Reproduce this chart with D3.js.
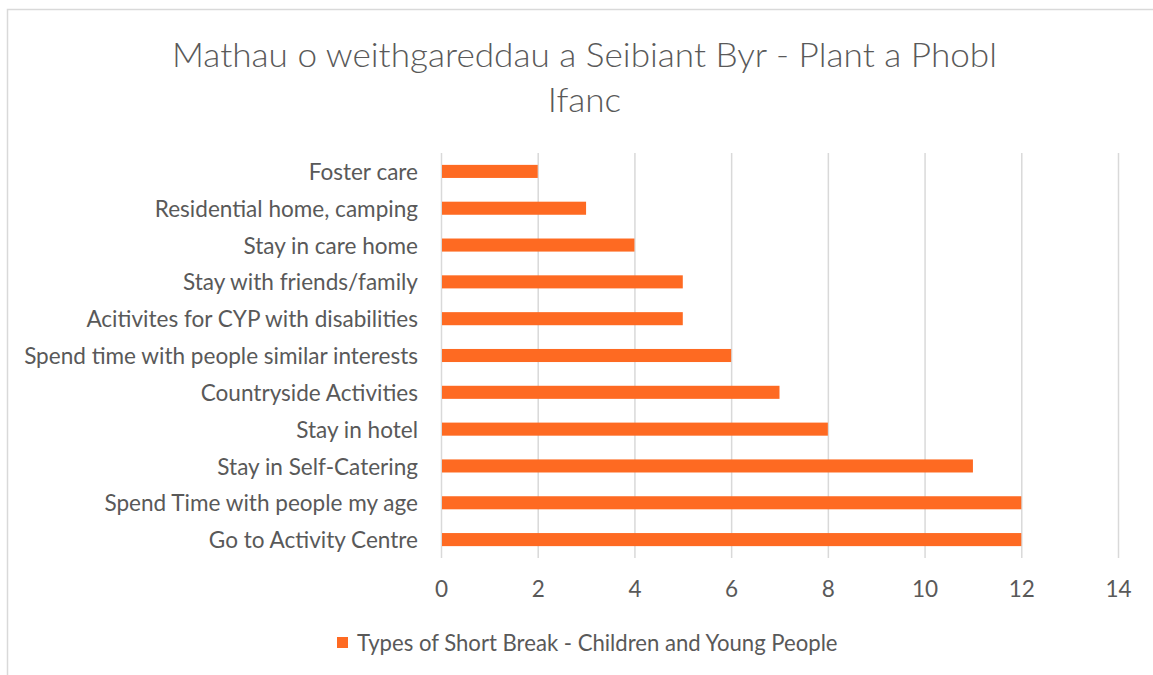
<!DOCTYPE html>
<html><head><meta charset="utf-8">
<script src="https://cdn.jsdelivr.net/npm/d3@7"></script>
<style>body{margin:0;background:#fff}svg{display:block}</style>
</head><body>
<svg id="c" width="1153" height="675"></svg>
<script>
const titleLines = ["Mathau o weithgareddau a Seibiant Byr - Plant a Phobl", "Ifanc"];
const categories = ["Foster care","Residential home, camping","Stay in care home","Stay with friends/family","Acitivites for CYP with disabilities","Spend time with people similar interests","Countryside Activities","Stay in hotel","Stay in Self-Catering","Spend Time with people my age","Go to Activity Centre"];
const values = [2,3,4,5,5,6,7,8,11,12,12];
const xTicks = [0,2,4,6,8,10,12,14];
const seriesName = "Types of Short Break - Children and Young People";

(function(){
const svg = d3.select("#c");
const FONT = "Lato, 'Open Sans', sans-serif";
const grey = "#595959";
const orange = "#FE6A22";

svg.append("rect").attr("x",7.5).attr("y",9.5).attr("width",1160).attr("height",680)
  .attr("fill","#fff").attr("stroke","#d9d9d9").attr("stroke-width",1.5);

const pL = 441, pR = 1118, pT = 153, pB = 558;
const x = d3.scaleLinear().domain([0,14]).range([pL,pR]);
const y = d3.scaleBand().domain(categories).range([pT,pB]).paddingInner(0.645).paddingOuter(0.3225);

function fit(sel, target){
  const w = sel.node().getComputedTextLength();
  const fs = parseFloat(sel.attr("font-size"));
  sel.attr("font-size", (fs*target/w).toFixed(2));
}

const xAxis = d3.axisBottom(x).tickValues(xTicks).tickSize(-(pB-pT)).tickPadding(0);
const gx = svg.append("g").attr("transform",`translate(0,${pB})`).call(xAxis);
gx.select(".domain").remove();
gx.selectAll(".tick line").attr("stroke","#d9d9d9").attr("stroke-width",1.5);
gx.selectAll(".tick text").attr("fill",grey).attr("font-family",FONT).attr("font-size",18)
  .attr("y",0).attr("dy",null).attr("transform","translate(0,39)");

svg.append("g").selectAll("rect").data(categories).join("rect")
  .attr("x",x(0)+1).attr("y",d=>y(d)).attr("height",y.bandwidth())
  .attr("width",(d,i)=>x(values[i])-x(0)-1).attr("fill",orange);

const yAxis = d3.axisLeft(y).tickSize(0).tickPadding(23);
const gy = svg.append("g").attr("transform",`translate(${pL},0)`).call(yAxis);
gy.select(".domain").remove();
gy.selectAll(".tick text").attr("fill",grey).attr("font-family",FONT).attr("font-size",18).attr("dy","0.38em");
const longest = gy.selectAll(".tick text").filter(d=>d===categories[5]);
fit(longest, 394);
const fsCat = longest.attr("font-size");
gy.selectAll(".tick text").attr("font-size",fsCat);
gx.selectAll(".tick text").attr("font-size",fsCat);

// title: taller glyphs compressed horizontally to mimic a condensed face
const tg = svg.append("g");
const t1 = tg.append("text").attr("x",0).attr("y",67).attr("text-anchor","middle")
  .attr("font-family",FONT).attr("font-weight",300).attr("font-size",34).attr("fill",grey).text(titleLines[0]);
const r = 825 / t1.node().getComputedTextLength();
tg.append("text").attr("x",0).attr("y",112).attr("text-anchor","middle")
  .attr("font-family",FONT).attr("font-weight",300).attr("font-size",34).attr("fill",grey).text(titleLines[1]);
tg.attr("transform",`translate(584.5,0) scale(${r},1)`);

svg.append("rect").attr("x",337).attr("y",637).attr("width",11).attr("height",11).attr("fill",orange);
const lt = svg.append("text").attr("x",357).attr("y",643).attr("dy","0.36em")
  .attr("font-family",FONT).attr("font-size",18).attr("fill",grey).text(seriesName);
fit(lt, 481);
})();
</script>
</body></html>
